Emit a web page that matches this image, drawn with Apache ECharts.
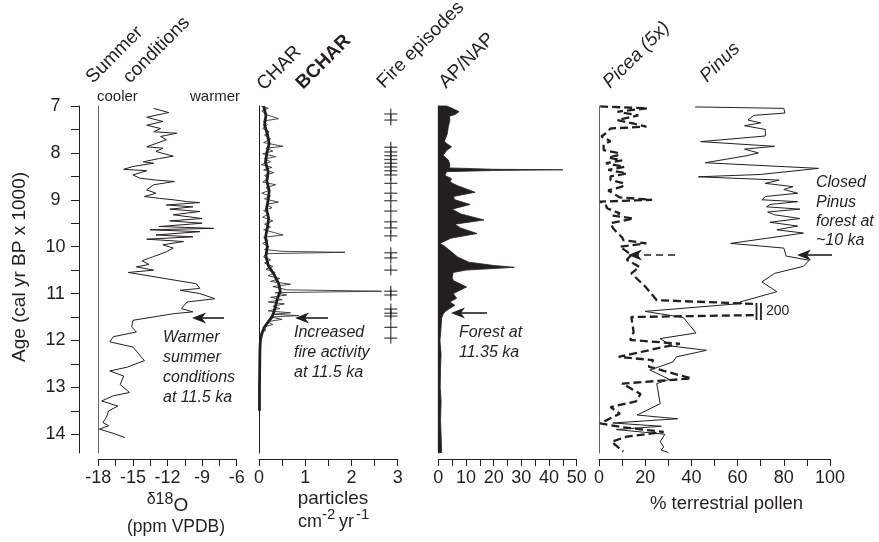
<!DOCTYPE html>
<html><head><meta charset="utf-8">
<script src="https://cdn.jsdelivr.net/npm/echarts@6/dist/echarts.min.js"></script>
<style>html,body{margin:0;padding:0;background:#fff}#c{width:879px;height:542px}</style>
</head><body><div id="c"></div>
<script>
// ---------- DATA ----------
const yTicks = [7,7.5,8,8.5,9,9.5,10,10.5,11,11.5,12,12.5,13,13.5,14];
const yLabels = [7,8,9,10,11,12,13,14];
const d18Ticks = [-18,-16.5,-15,-13.5,-12,-10.5,-9,-7.5,-6];
const d18Labels = [-18,-15,-12,-9,-6];
const charTicks = [0,0.5,1,1.5,2,2.5,3];
const charLabels = [0,1,2,3];
const apTicks = [0,5,10,15,20,25,30,35,40,45,50];
const apLabels = [0,10,20,30,40,50];
const polTicks = [0,10,20,30,40,50,60,70,80,90,100];
const polLabels = [0,20,40,60,80,100];

const d18Age = [7.05,7.14,7.24,7.33,7.41,7.48,7.55,7.58,7.65,7.72,7.8,7.87,7.9,7.97,8.07,8.12,8.19,8.22,8.29,8.35,8.38,8.47,8.54,8.58,8.61,8.68,8.79,8.86,8.93,8.97,9.0,9.04,9.06,9.11,9.15,9.2,9.25,9.32,9.4,9.45,9.5,9.57,9.61,9.64,9.68,9.75,9.79,9.84,9.89,9.96,10.03,10.11,10.21,10.3,10.38,10.43,10.5,10.55,10.79,10.89,10.93,11.0,11.11,11.18,11.32,11.39,11.43,11.57,11.71,11.82,11.92,12.03,12.14,12.43,12.57,12.65,12.76,12.94,13.11,13.18,13.29,13.4,13.5,13.64,13.75,13.82,13.89,13.99,14.07];
const d18Val = [-13.2,-11.9,-13.8,-12.4,-13.8,-12.6,-13.2,-11.2,-12.6,-12.1,-13.0,-13.8,-12.4,-13.0,-11.5,-12.7,-14.1,-13.2,-15.0,-15.8,-13.8,-15.0,-14.4,-13.0,-11.4,-13.2,-13.8,-13.0,-14.0,-12.7,-11.5,-10.3,-9.2,-12.1,-9.8,-11.8,-9.2,-11.5,-9.0,-11.8,-9.0,-12.7,-8.0,-13.5,-9.2,-13.0,-9.8,-13.8,-10.6,-12.4,-11.5,-12.1,-13.2,-14.2,-13.6,-14.7,-13.2,-15.4,-9.5,-9.2,-10.9,-9.2,-7.9,-10.3,-10.8,-9.8,-11.5,-15.0,-15.1,-14.7,-16.7,-17.0,-15.0,-14.0,-15.5,-17.0,-15.8,-16.1,-15.3,-16.7,-17.7,-16.3,-17.1,-17.3,-17.6,-17.1,-17.9,-16.6,-15.7];

const charAge = [7.0,7.05,7.1,7.18,7.27,7.32,7.4,7.48,7.55,7.62,7.7,7.78,7.86,7.9,7.96,8.02,8.08,8.13,8.19,8.25,8.31,8.36,8.42,8.48,8.55,8.62,8.68,8.74,8.8,8.86,8.92,8.98,9.05,9.1,9.17,9.23,9.3,9.37,9.45,9.52,9.58,9.64,9.7,9.75,9.8,9.87,9.93,10.0,10.06,10.1,10.12,10.15,10.22,10.28,10.35,10.42,10.48,10.55,10.62,10.68,10.74,10.8,10.85,10.92,10.95,10.98,11.03,11.08,11.13,11.18,11.22,11.27,11.32,11.37,11.41,11.44,11.47,11.5,11.55,11.6,11.66,11.72,11.78,11.85,11.92,12.0,12.2,12.5,12.8,13.1,13.5];
const charVal = [0.05,0.2,0.06,0.15,0.42,0.1,0.18,0.08,0.22,0.12,0.25,0.1,0.52,0.15,0.3,0.08,0.36,0.12,0.25,0.05,0.28,0.1,0.32,0.12,0.2,0.08,0.36,0.15,0.22,0.06,0.25,0.12,0.42,0.15,0.28,0.1,0.22,0.08,0.3,0.12,0.25,0.1,0.33,0.52,0.1,0.2,0.08,0.22,0.12,0.5,1.86,0.15,0.1,0.25,0.12,0.3,0.15,0.35,0.2,0.45,0.25,0.68,0.3,0.6,2.65,0.35,0.6,0.25,0.5,0.2,0.55,0.3,0.45,0.2,0.68,0.3,0.86,0.25,0.5,0.18,0.3,0.08,0.15,0.04,0.06,0.02,0.03,0.01,0.02,0.01,0.01];

const bcharAge = [7.0,7.2,7.4,7.6,7.8,8.0,8.2,8.4,8.6,8.8,9.0,9.2,9.4,9.6,9.8,10.0,10.2,10.4,10.6,10.8,10.95,11.1,11.25,11.4,11.5,11.6,11.7,11.8,11.9,12.0,12.2,12.6,13.0,13.5];
const bcharVal = [0.1,0.15,0.12,0.18,0.22,0.17,0.14,0.2,0.17,0.22,0.2,0.16,0.21,0.18,0.14,0.18,0.15,0.2,0.33,0.43,0.46,0.4,0.36,0.32,0.28,0.2,0.13,0.08,0.05,0.03,0.02,0.015,0.01,0.01];

const fireAge = [7.17,7.3,7.88,7.98,8.06,8.14,8.22,8.3,8.38,8.47,8.65,8.86,9.02,9.24,9.47,9.6,9.77,10.13,10.24,10.5,10.95,11.03,11.33,11.42,11.48,11.72,11.95];

const apAge = [7.0,7.05,7.12,7.18,7.22,7.3,7.45,7.6,7.75,7.8,7.87,7.95,8.05,8.15,8.25,8.32,8.35,8.36,8.375,8.4,8.48,8.55,8.62,8.7,8.84,8.93,9.0,9.1,9.2,9.3,9.43,9.52,9.6,9.72,9.82,9.93,10.0,10.1,10.22,10.33,10.4,10.44,10.5,10.55,10.65,10.72,10.86,11.0,11.1,11.18,11.25,11.36,11.43,11.53,11.8,12.0,12.3,12.6,13.0,13.3,13.7,14.0,14.39];
const apVal = [3,5,7.5,6,4,4.2,3.6,3.2,2.2,3,4.8,3,1.8,3.6,4.2,4,20,45,20,3,2.4,4.8,4.2,7,13.3,5.4,6,11.5,5,8,16.5,6,8,14,4.5,0.6,2.5,4.5,7,11,20,27.5,10,5.4,5,5.4,10.2,5.4,6.6,4.2,6,3,1.8,1.2,0.9,0.6,1,0.8,0.7,1,0.8,1,1.2];

const piceaAge = [7.01,7.05,7.12,7.2,7.3,7.44,7.48,7.58,7.65,7.75,7.82,7.94,8.0,8.04,8.1,8.16,8.22,8.3,8.36,8.44,8.5,8.58,8.65,8.72,8.8,8.86,8.95,9.0,9.04,9.12,9.18,9.29,9.34,9.4,9.5,9.6,9.71,9.8,9.86,9.93,10.0,10.1,10.18,10.28,10.43,10.57,10.85,11.14,11.22,11.46,11.5,11.82,11.99,12.07,12.15,12.35,12.42,12.56,12.81,12.92,13.14,13.3,13.42,13.56,13.77,13.85,13.95,14.05,14.16,14.37];
const piceaVal = [0.5,21,8,17,8,20.5,5,3,1,5,2,2,8,9,4,10,3,11,4,12,5,5,11,10,4,6,9,23,0.5,3,3.5,9,6,15,5,6,8,10,10.5,20.5,9,12,14,12,17.5,14,20,25,200,200,14,15,13.5,35,27,8.5,23.5,21.5,40,10,18,16,5,9,0.5,10,28,12,5.5,10.5];

const pinusAge = [7.02,7.05,7.15,7.2,7.3,7.36,7.42,7.5,7.64,7.76,7.86,7.92,8.0,8.06,8.21,8.33,8.46,8.51,8.58,8.65,8.72,8.78,8.86,8.93,9.0,9.04,9.1,9.15,9.2,9.26,9.32,9.4,9.48,9.56,9.64,9.71,9.93,10.03,10.2,10.29,10.42,10.57,10.75,10.96,11.18,11.21,11.38,11.51,11.84,11.96,12.12,12.21,12.35,12.46,12.63,12.83,12.92,13.35,13.59,13.67,13.76,13.83,13.9,14.0,14.16,14.27,14.34,14.39];
const pinusVal = [41.6,80,80.5,67,64.5,70,63,72,72,44,76,63,69,64,46,95,70,43,78,72,84,80,86,72,70.5,86,74,72.5,87,73,76,87,74,86,77,88.5,57,80,81,91,88.5,76,70.5,77,61,62,20,36.5,42,26.5,31.5,46.5,33.5,32,22,30.5,25,26.5,16.5,34,6,27,7.5,28.5,26.5,28,27,30];

// ---------- CHART ----------
const INK = '#231f20';
const FF = '"Liberation Sans", Arial, Helvetica, sans-serif';
const chart = echarts.init(document.getElementById('c'), null, {renderer:'canvas'});

const gridTop = 106, gridH = 347;
const grids = [
  {left:98.3, top:gridTop, width:138.4, height:gridH},
  {left:259, top:gridTop, width:138.7, height:gridH},
  {left:438.3, top:gridTop, width:138.4, height:gridH},
  {left:599, top:gridTop, width:231, height:gridH}
];
function xAx(g, min, max, interval, ticks, labels){
  return {gridIndex:g, type:'value', min, max, interval, position:'bottom', offset:6,
    axisLine:{show:true, onZero:false, lineStyle:{color:INK, width:1}},
    axisTick:{show:true, inside:false, length:7, customValues:ticks, lineStyle:{color:INK, width:1}},
    axisLabel:{customValues:labels, fontSize:18, color:INK, fontFamily:FF, margin:10, showMinLabel:true, showMaxLabel:true},
    splitLine:{show:false}};
}
function yAxLine(g, color){
  return {gridIndex:g, type:'value', inverse:true, min:7, max:14.4, position:'left',
    axisLine:{show:true, onZero:false, lineStyle:{color, width:1}},
    axisTick:{show:false}, axisLabel:{show:false}, splitLine:{show:false}};
}
const yAxes = [
  {gridIndex:0, type:'value', inverse:true, min:7, max:14.4, interval:0.5, position:'left', offset:19.3,
   axisLine:{show:true, onZero:false, lineStyle:{color:INK, width:1}},
   axisTick:{show:true, inside:false, length:8, customValues:yTicks, lineStyle:{color:INK, width:1}},
   axisLabel:{customValues:yLabels, fontSize:18, color:INK, fontFamily:FF, align:'center', margin:23.5},
   splitLine:{show:false}},
  yAxLine(0, '#666'),
  yAxLine(1, INK),
  yAxLine(2, INK),
  yAxLine(3, '#666')
];

function pairs(ages, vals){ return ages.map((a,i)=>[vals[i], a]); }
// Picea: values above the axis are drawn at the break mark
const piceaData = [];
piceaAge.forEach((a,i)=>{
  const v = piceaVal[i];
  if (v > 100) {
    if (i>0 && piceaVal[i-1] > 100) piceaData.push(['-','-']);
    piceaData.push([67, a]);
  } else piceaData.push([v, a]);
});

const series = [
  {type:'line', xAxisIndex:0, yAxisIndex:0, data:pairs(d18Age,d18Val), symbol:'none', lineStyle:{color:INK, width:1}},
  {type:'line', xAxisIndex:1, yAxisIndex:2, data:pairs(charAge,charVal), symbol:'none', lineStyle:{color:'#333', width:0.9}},
  {type:'line', xAxisIndex:1, yAxisIndex:2, data:pairs(bcharAge,bcharVal), symbol:'none', lineStyle:{color:INK, width:2.8}},
  {type:'scatter', xAxisIndex:1, yAxisIndex:2, data:fireAge.map(a=>[2.85,a]), symbol:'rect', symbolSize:[13,1.3], itemStyle:{color:INK}, silent:true},
  {type:'scatter', xAxisIndex:1, yAxisIndex:2, data:fireAge.map(a=>[2.85,a]), symbol:'rect', symbolSize:[1.3,11], itemStyle:{color:INK}, silent:true},
  {type:'custom', xAxisIndex:2, yAxisIndex:3, data:[[0,7]],
   renderItem:function(params, api){
     const pts = [api.coord([0, apAge[0]])];
     apAge.forEach((a,i)=>pts.push(api.coord([apVal[i], a])));
     pts.push(api.coord([0, apAge[apAge.length-1]]));
     return {type:'polygon', shape:{points:pts}, style:{fill:INK, stroke:INK, lineWidth:0.8}};
   }},
  {type:'line', xAxisIndex:3, yAxisIndex:4, data:piceaData, symbol:'none', connectNulls:false, lineStyle:{color:INK, width:2.3, type:[8,4]}},
  {type:'line', xAxisIndex:3, yAxisIndex:4, data:pairs(pinusAge,pinusVal), symbol:'none', lineStyle:{color:INK, width:1}}
];

// ---------- ANNOTATIONS ----------
const G = [];
function txt(text, x, y, o){
  o = o || {};
  G.push({type:'text', x, y, rotation:o.rot||0, silent:true, z:10,
    style:{text, fill:INK, fontSize:o.size||16, fontFamily:FF, fontStyle:o.style||'normal', fontWeight:o.weight||'normal',
      align:o.align||'left', verticalAlign:o.va||'middle'}});
}
function arrow(x1, y, x2, dashed){
  G.push({type:'line', silent:true, z:10, shape:{x1:x1, y1:y, x2:x2+8, y2:y}, style:{stroke:INK, lineWidth:1.6, lineDash: dashed?[7,5]:null}});
  G.push({type:'polygon', silent:true, z:10, shape:{points:[[x2,y],[x2+14,y-5.5],[x2+10,y],[x2+14,y+5.5]]}, style:{fill:INK}});
}
const R = Math.PI/4;
const TS = 19;
txt('Summer', 96, 87, {rot:R, size:TS, va:'bottom'});
txt('conditions', 133, 87, {rot:R, size:TS, va:'bottom'});
txt('CHAR', 267, 94, {rot:R, size:TS, va:'bottom'});
txt('BCHAR', 306, 93, {rot:R, size:TS, va:'bottom', weight:'bold'});
txt('Fire episodes', 387, 92, {rot:R, size:TS, va:'bottom'});
txt('AP/NAP', 449, 92, {rot:R, size:TS, va:'bottom'});
txt('Picea (5x)', 613, 92, {rot:R, size:TS, va:'bottom', style:'italic'});
txt('Pinus', 710, 86, {rot:R, size:TS, va:'bottom', style:'italic'});
txt('cooler', 97, 97, {size:15});
txt('warmer', 190, 97, {size:15});
txt('Age (cal yr BP x 1000)', 20, 267, {rot:Math.PI/2, size:19, align:'center'});
// axis titles
txt('δ18', 146.7, 500, {size:16});
txt('O', 173.5, 506, {size:19});
txt('(ppm VPDB)', 176, 527, {size:17.5, align:'center'});
txt('particles', 333, 499, {size:19, align:'center'});
txt('cm', 298, 522, {size:18});
txt('-2', 322, 515, {size:15});
txt('yr', 339, 522, {size:18});
txt('-1', 356, 515, {size:15});
txt('% terrestrial pollen', 726.5, 503.5, {size:18.5, align:'center'});
// italic notes
['Warmer','summer','conditions','at 11.5 ka'].forEach((t,i)=>txt(t, 163, 338+i*20, {style:'italic'}));
['Increased','fire activity','at 11.5 ka'].forEach((t,i)=>txt(t, 294, 333+i*20, {style:'italic'}));
['Forest at','11.35 ka'].forEach((t,i)=>txt(t, 459, 333+i*20, {style:'italic'}));
['Closed','Pinus','forest at','~10 ka'].forEach((t,i)=>txt(t, 816, 183+i*19.3, {style:'italic'}));
arrow(224, 318, 192, false);
arrow(328, 318, 295, false);
arrow(487, 313, 451, false);
arrow(832, 255, 797, false);
arrow(675, 255, 628, true);
// break mark for Picea 200
G.push({type:'line', silent:true, z:10, shape:{x1:756.5, y1:303, x2:756.5, y2:320}, style:{stroke:INK, lineWidth:1.8}});
G.push({type:'line', silent:true, z:10, shape:{x1:761, y1:303, x2:761, y2:320}, style:{stroke:INK, lineWidth:1.8}});
txt('200', 766, 311.5, {size:14});

chart.setOption({
  animation:false,
  backgroundColor:'#fff',
  textStyle:{fontFamily:FF},
  grid:grids,
  xAxis:[xAx(0,-18,-6,1.5,d18Ticks,d18Labels), xAx(1,0,3,0.5,charTicks,charLabels), xAx(2,0,50,5,apTicks,apLabels), xAx(3,0,100,10,polTicks,polLabels)],
  yAxis:yAxes,
  series:series,
  graphic:G
});
</script></body></html>
